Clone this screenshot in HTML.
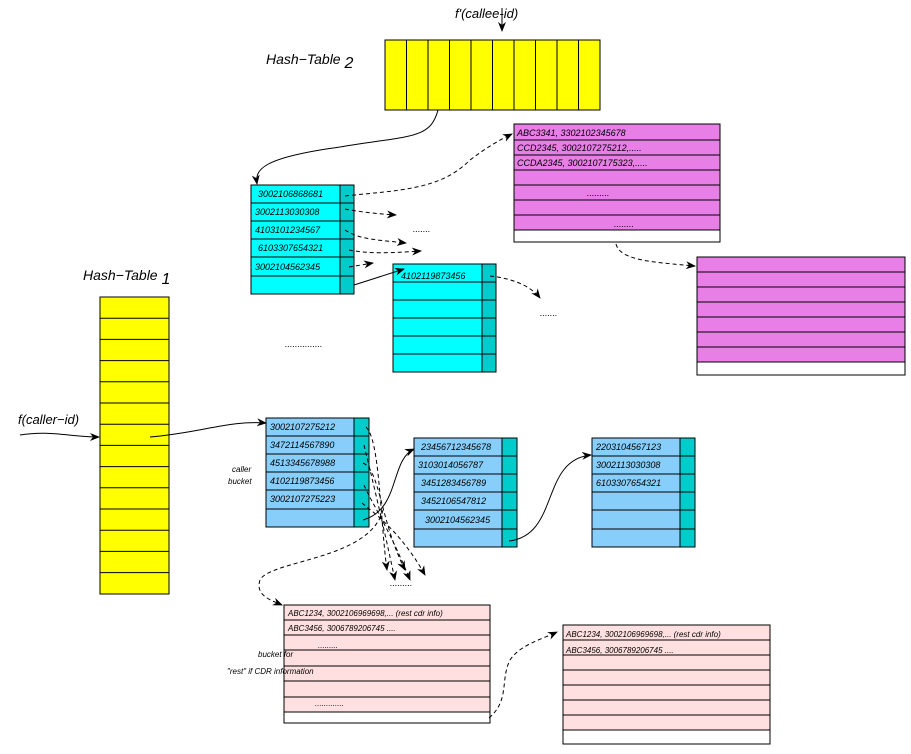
<!DOCTYPE html>
<html><head><style>body{margin:0;background:#fff}svg{display:block}</style></head><body>
<svg width="911" height="754" viewBox="0 0 911 754" xmlns="http://www.w3.org/2000/svg" font-family="Liberation Sans, sans-serif" font-style="italic">
<defs>
<marker id="a" markerWidth="10" markerHeight="8" refX="9" refY="4" orient="auto" markerUnits="userSpaceOnUse"><path d="M0,0 L10,4 L0,8 L3,4z" fill="#000"/></marker>
</defs>
<g stroke="#000" stroke-width="1">
<!-- Hash table 2 -->
<rect x="385" y="40" width="215" height="70" fill="#ff0"/>
<path d="M406.5,40V110M428,40V110M449.5,40V110M471,40V110M492.5,40V110M514,40V110M535.5,40V110M557,40V110M578.5,40V110"/>
<!-- Hash table 1 -->
<rect x="100" y="297" width="69" height="297" fill="#ff0"/>
<path d="M100,318.2H169M100,339.4H169M100,360.6H169M100,381.8H169M100,403H169M100,424.2H169M100,445.4H169M100,466.6H169M100,487.8H169M100,509H169M100,530.2H169M100,551.4H169M100,572.6H169"/>
<!-- cyan bucket 1 -->
<rect x="251" y="185" width="103" height="109" fill="#0ff"/>
<rect x="340" y="185" width="14" height="109" fill="#00cccc"/>
<path d="M251,203H354M251,221H354M251,239H354M251,257H354M251,276H354"/>
<!-- cyan bucket 2 -->
<rect x="393" y="264" width="103" height="108" fill="#0ff"/>
<rect x="482" y="264" width="14" height="108" fill="#00cccc"/>
<path d="M393,282H496M393,300H496M393,318H496M393,336H496M393,354H496"/>
<!-- magenta 1 -->
<rect x="514" y="124" width="206" height="118" fill="#fff"/>
<rect x="514" y="124" width="206" height="106" fill="#e77fe7"/>
<path d="M514,140H720M514,155H720M514,170H720M514,185H720M514,200H720M514,215H720M514,230H720"/>
<!-- magenta 2 -->
<rect x="697" y="257" width="208" height="118" fill="#fff"/>
<rect x="697" y="257" width="208" height="105" fill="#e77fe7"/>
<path d="M697,272H905M697,287H905M697,302H905M697,317H905M697,332H905M697,347H905M697,362H905"/>
<!-- caller bucket -->
<rect x="266" y="418" width="103" height="109" fill="#87cefa"/>
<rect x="354" y="418" width="15" height="109" fill="#00cccc"/>
<path d="M266,436H369M266,454H369M266,472H369M266,490H369M266,509H369"/>
<!-- blue 2 -->
<rect x="414" y="438" width="103" height="109" fill="#87cefa"/>
<rect x="502" y="438" width="15" height="109" fill="#00cccc"/>
<path d="M414,456H517M414,474H517M414,492H517M414,510H517M414,529H517"/>
<!-- blue 3 -->
<rect x="592" y="438" width="103" height="109" fill="#87cefa"/>
<rect x="680" y="438" width="15" height="109" fill="#00cccc"/>
<path d="M592,456H695M592,474H695M592,492H695M592,510H695M592,529H695"/>
<!-- pink 1 -->
<rect x="284" y="605" width="206" height="118" fill="#fff"/>
<rect x="284" y="605" width="206" height="107" fill="#ffe0e0"/>
<path d="M284,620H490M284,635H490M284,650H490M284,666H490M284,681H490M284,697H490M284,712H490"/>
<!-- pink 2 -->
<rect x="563" y="625" width="207" height="119" fill="#fff"/>
<rect x="563" y="625" width="207" height="105" fill="#ffe0e0"/>
<path d="M563,640H770M563,655H770M563,670H770M563,685H770M563,700H770M563,715H770M563,730H770"/>
</g>
<!-- solid connectors -->
<g stroke="#000" fill="none" stroke-width="1" marker-end="url(#a)">
<path d="M502,8V31"/>
<path d="M438,110C430,140 410,135 340,147C260,158 255,170 257,184"/>
<path d="M354,285L404,269"/>
<path d="M20,435C50,430 70,437 99,437"/>
<path d="M150,437C200,433 230,420 266,423"/>
<path d="M363,520C400,510 390,460 414,449"/>
<path d="M509,541C560,535 540,460 591,455"/>
</g>
<g stroke="#000" fill="none" stroke-width="1" stroke-dasharray="4,3" marker-end="url(#a)">
<path d="M345,196C400,190 440,190 470,160C490,145 500,140 512,134"/>
<path d="M345,209C360,212 380,214 396,215"/>
<path d="M345,230C360,240 380,240 406,243"/>
<path d="M349,250C370,254 390,253 421,251"/>
<path d="M349,267L373,263"/>
<path d="M490,276C510,278 530,285 540,298"/>
<path d="M616,244C620,260 650,262 695,266"/>
<path d="M366,427C380,440 380,520 387,570"/>
<path d="M364,445C370,470 380,510 395,580"/>
<path d="M363,463C380,470 380,520 405,570"/>
<path d="M364,485C370,500 390,530 410,580"/>
<path d="M362,503C370,510 400,530 425,575"/>
<path d="M383,510C370,560 270,560 260,580C255,595 270,600 282,605"/>
<path d="M489,718C510,700 500,680 510,660C520,645 540,640 557,632"/>
</g>
<g font-size="9" fill="#000">
<text x="258" y="197">3002106868681</text>
<text x="255" y="215">3002113030308</text>
<text x="255" y="233">4103101234567</text>
<text x="258" y="251">6103307654321</text>
<text x="255" y="270">3002104562345</text>
<text x="401" y="279">4102119873456</text>
<text x="270" y="430">3002107275212</text>
<text x="270" y="448">3472114567890</text>
<text x="270" y="466">4513345678988</text>
<text x="270" y="484">4102119873456</text>
<text x="270" y="502">3002107275223</text>
<text x="421" y="450">23456712345678</text>
<text x="418" y="468">3103014056787</text>
<text x="421" y="486">3451283456789</text>
<text x="421" y="504">3452106547812</text>
<text x="425" y="523">3002104562345</text>
<text x="596" y="450">2203104567123</text>
<text x="596" y="468">3002113030308</text>
<text x="596" y="486">6103307654321</text>
<text x="517" y="136">ABC3341,  3302102345678</text>
<text x="517" y="151">CCD2345, 3002107275212,.....</text>
<text x="517" y="166">CCDA2345, 3002107175323,.....</text>
<text x="587" y="196">.........</text>
<text x="614" y="227">........</text>
<text x="413" y="232">.......</text>
<text x="540" y="316">.......</text>
<text x="285" y="347">...............</text>
<text x="390" y="586">.........</text>
<text x="232" y="472" font-size="8">caller</text>
<text x="228" y="484" font-size="8">bucket</text>
<text x="258" y="657" font-size="8">bucket for</text>
<text x="227" y="674" font-size="8">"rest" if CDR information</text>
</g>
<g font-size="8" fill="#000">
<text x="288" y="616">ABC1234, 3002106969698,... (rest cdr info)</text>
<text x="288" y="631">ABC3456, 3006789206745 ....</text>
<text x="318" y="648">.........</text>
<text x="315" y="706">.............</text>
<text x="566" y="637">ABC1234, 3002106969698,... (rest cdr info)</text>
<text x="566" y="653">ABC3456, 3006789206745 ....</text>
</g>
<g font-size="14" fill="#000">
<text x="455" y="18" font-size="13">f'(callee-id)</text>
<text x="266" y="64">Hash−Table <tspan font-size="16" dy="4">2</tspan></text>
<text x="83" y="280">Hash−Table <tspan font-size="16" dy="4">1</tspan></text>
<text x="18" y="424" font-size="13">f(caller−id)</text>
</g>
</svg>
</body></html>
